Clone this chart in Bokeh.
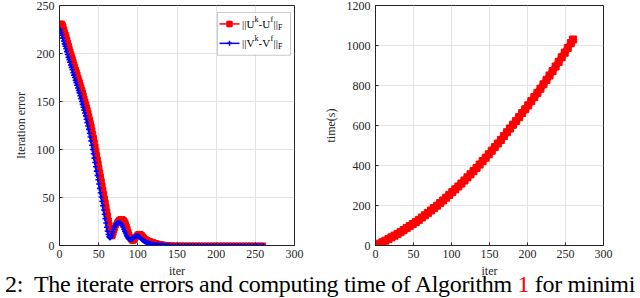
from bokeh.plotting import figure
from bokeh.models import Range1d, FixedTicker, BoxAnnotation, Label, Div
from bokeh.layouts import row, column
from bokeh.embed import file_html
from bokeh.resources import INLINE

# ---------------- data ----------------
iter_dense = list(range(1, 141))
iter_tail = list(range(144, 261, 4))

u_err_dense = [
    231, 231, 231, 230, 228, 225, 222, 219.5, 217, 214,
    211, 208, 205, 202, 199, 196.5, 194, 191, 188.5, 186,
    183, 180.5, 178, 175, 172.5, 170, 167, 164.5, 162, 159,
    156, 153, 150, 147, 144, 141, 138, 134.5, 131, 127.5,
    124, 120, 116, 112, 107.5, 103, 98.5, 94, 89.5, 85,
    80.5, 76, 71.5, 67, 62.5, 58, 53.5, 49, 44.5, 40,
    35.5, 31, 26, 21, 16, 11.5, 9.5, 10.5, 13, 16,
    18.5, 21, 23, 24.5, 25.5, 26.5, 27, 27.5, 27.5, 27.5,
    27, 26.5, 25.5, 24, 22, 19.5, 17, 14, 11.5, 9,
    7, 5.5, 5, 5, 5.5, 6.5, 8, 9.5, 10.5, 11.5,
    12, 12, 12, 11.5, 11, 10, 9, 8, 7, 6.5,
    6, 5.5, 5, 4.8, 4.5, 4.2, 4, 3.7, 3.4, 3.1,
    2.8, 2.5, 2.3, 2.1, 1.9, 1.7, 1.5, 1.3, 1.1, 1.0,
    0.9, 0.8, 0.7, 0.6, 0.5, 0.4, 0.35, 0.3, 0.25, 0.2,
]
u_err_tail = [0.15, 0.12, 0.1, 0.08, 0.07, 0.06, 0.05, 0.05, 0.04, 0.04,
              0.03, 0.03, 0.03, 0.03, 0.02, 0.02, 0.02, 0.02, 0.02, 0.02,
              0.01, 0.01, 0.01, 0.01, 0.01, 0.01, 0.01, 0.01, 0.01, 0.01]

v_err_dense = [
    225, 222, 219, 216, 213, 210, 207.5, 205, 202, 199,
    196, 193.5, 191, 188, 185.5, 183, 180, 177.5, 175, 172,
    169.5, 167, 164, 161.5, 159, 156, 153, 150, 147, 144,
    141, 138, 135, 131.5, 128, 124.5, 121, 117, 113, 109,
    104.5, 100, 95.5, 91, 86.5, 82, 77.5, 73, 68.5, 64,
    59.5, 55, 50.5, 46, 41.5, 37, 32.5, 28, 23.5, 19,
    15, 11.5, 9, 8, 8, 9.5, 12, 14.5, 17, 19,
    20.5, 22, 23, 23.5, 24, 24, 23.5, 23, 22, 20.5,
    19, 17, 15, 13, 11, 9.5, 8, 7, 6.5, 6.3,
    6.3, 6.5, 7, 7.8, 8.5, 9.2, 9.7, 10, 10, 9.8,
    9.4, 8.8, 8.1, 7.3, 6.5, 5.8, 5.1, 4.5, 4, 3.6,
    3.2, 2.9, 2.6, 2.3, 2.0, 1.8, 1.6, 1.4, 1.2, 1.05,
    0.9, 0.8, 0.7, 0.6, 0.5, 0.42, 0.36, 0.3, 0.25, 0.2,
    0.18, 0.16, 0.14, 0.12, 0.1, 0.09, 0.08, 0.07, 0.06, 0.05,
]
v_err_tail = [0.04, 0.04, 0.03, 0.03, 0.03, 0.02, 0.02, 0.02, 0.02, 0.02,
              0.01, 0.01, 0.01, 0.01, 0.01, 0.01, 0.01, 0.01, 0.01, 0.01,
              0.01, 0.01, 0.01, 0.01, 0.01, 0.01, 0.01, 0.01, 0.01, 0.01]

iter_time = list(range(1, 258, 4)) + [260]
time_s = [
    2, 9, 16, 24, 32, 41, 49, 58, 67, 77,
    87, 97, 107, 117, 128, 140, 151, 163, 175, 187,
    199, 212, 225, 239, 253, 267, 281, 295, 310, 325,
    341, 356, 372, 388, 405, 422, 439, 456, 474, 492,
    510, 528, 547, 566, 585, 604, 623, 642, 662, 681,
    701, 722, 742, 763, 784, 806, 828, 850, 872, 895,
    918, 941, 964, 988, 1012, 1030,
]

x_ticks = [0, 50, 100, 150, 200, 250, 300]
err_ticks = [0, 50, 100, 150, 200, 250]
time_ticks = [0, 200, 400, 600, 800, 1000, 1200]

caption_html = ("2:&nbsp; The iterate errors and computing time of Algorithm "
                "<span style='color:#ff0000'>1</span> for minimi")

# ---------------- styling ----------------
FONT = "Liberation Serif"
AX = "#262626"


def style(p, yticks):
    p.xaxis.ticker = FixedTicker(ticks=x_ticks)
    p.yaxis.ticker = FixedTicker(ticks=yticks)
    for ax in p.axis:
        ax.major_tick_in = 3
        ax.major_tick_out = 0
        ax.minor_tick_line_color = None
        ax.axis_line_color = AX
        ax.major_tick_line_color = AX
        ax.major_label_text_font = FONT
        ax.major_label_text_font_size = "12px"
        ax.major_label_text_color = AX
        ax.axis_label_text_font = FONT
        ax.axis_label_text_font_size = "12px"
        ax.axis_label_text_font_style = "normal"
        ax.axis_label_text_color = AX
    p.xaxis.major_label_standoff = 4
    p.xaxis.axis_label_standoff = 3
    p.yaxis.major_label_standoff = 5
    p.yaxis.axis_label_standoff = 6
    p.grid.grid_line_color = "#e3e3e3"
    p.grid.grid_line_width = 1
    p.outline_line_color = AX
    p.outline_line_width = 1
    p.background_fill_color = "white"
    p.border_fill_color = "white"


# ---------------- left plot ----------------
p1 = figure(width=320, height=280, x_range=Range1d(0, 300), y_range=Range1d(0, 250),
            output_backend="svg", toolbar_location=None,
            min_border_left=59, min_border_right=26, min_border_top=5, min_border_bottom=34,
            x_axis_label="iter", y_axis_label="Iteration error")
style(p1, err_ticks)

iter_u = iter_dense + iter_tail
u_err = u_err_dense + u_err_tail
v_err = v_err_dense + v_err_tail

p1.line(iter_u, u_err, color="#ff0000", line_width=1.5)
p1.scatter(iter_u, u_err, marker="square", size=5, color="#ff0000")
p1.line(iter_u, v_err, color="#0000ff", line_width=1.5)
p1.scatter(iter_u, v_err, marker="cross", size=5, color="#0000ff", line_width=1.6)


# manual legend (frame: 235 px wide for 300 units, 241 px tall for 250 units)
def fx(px):
    return px * 300 / 235.0


def fy(px):
    return 250 - px * 250 / 241.0


p1.add_layout(BoxAnnotation(left=fx(158), right=fx(231), top=fy(7), bottom=fy(50),
                            fill_color="white", fill_alpha=1.0,
                            line_color=AX, line_width=0.8, level="annotation"))
rows = [(fy(18.5), "#ff0000", "square", "U"), (fy(38), "#0000ff", "cross", "V")]
for ry, col, mk, letter in rows:
    p1.line([fx(160), fx(180)], [ry, ry], color=col, line_width=1.5, level="overlay")
    p1.scatter([fx(170)], [ry], marker=mk, size=5, color=col, line_width=1.5, level="overlay")
    pieces = [
        ("||" + letter, 0, 11, 0),
        ("k", 12.5, 8, 4.5),
        ("-" + letter, 16.5, 11, 0),
        ("f", 28.5, 8, 4.5),
        ("||", 31.5, 11, 0),
        ("F", 36, 8, -3.5),
    ]
    for txt, dx, fs, dy in pieces:
        p1.add_layout(Label(x=fx(182.5 + dx), y=ry + dy * 250 / 241.0, text=txt,
                            text_font=FONT, text_font_size=f"{fs}px", text_color="black",
                            text_baseline="middle", text_align="left", level="overlay"))

# ---------------- right plot ----------------
p2 = figure(width=320, height=280, x_range=Range1d(0, 300), y_range=Range1d(0, 1200),
            output_backend="svg", toolbar_location=None,
            min_border_left=48, min_border_right=37, min_border_top=5, min_border_bottom=34,
            x_axis_label="iter", y_axis_label="time(s)")
style(p2, time_ticks)
p2.line(iter_time, time_s, color="#ff0000", line_width=7)
p2.scatter(iter_time, time_s, marker="square", size=7, color="#ff0000")

# ---------------- caption ----------------
cap = Div(text=("<div style=\"font-family:'Liberation Serif';font-size:24px;letter-spacing:-0.32px;"
                "white-space:nowrap;line-height:24px;color:black;\">" + caption_html + "</div>"),
          width=640, height=26,
          styles={"margin-top": "-8px"})

layout = column(row(p1, p2), cap)

open("out.html", "w").write(file_html(layout, INLINE))
